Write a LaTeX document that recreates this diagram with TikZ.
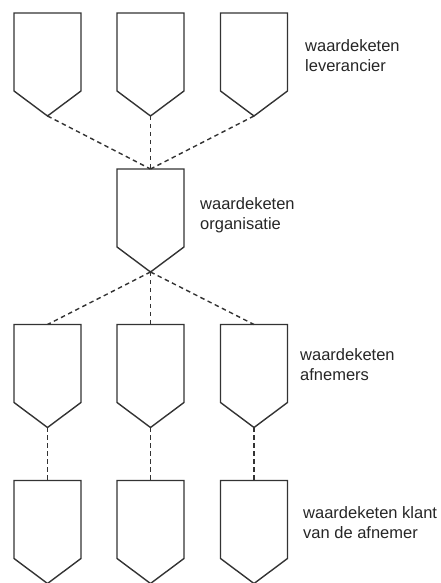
\documentclass[tikz,border=0pt]{standalone}
\usepackage{fontspec}
\setmainfont{Liberation Sans}

\tikzset{
  chainbox/.style={minimum width=67pt, minimum height=103pt, inner sep=0pt, outer sep=0pt},
  chainline/.style={draw=black!80, line width=1.4pt, line join=miter},
  link/.style={draw=black!80, line width=1.4pt, dash pattern=on 4.5pt off 3.5pt},
  chainlabel/.style={anchor=west, align=left, inner sep=0pt, text=black!85,
                     font=\fontsize{16.5}{20}\selectfont}
}

\begin{document}
\begin{tikzpicture}[x=1pt,y=1pt]
   % Page size
   \useasboundingbox (0,0) rectangle (441,583);
   % Leveranciers
   \node[chainbox] (lev1) at (47.5,518.5) {};
   \node[chainbox] (lev2) at (150.5,518.5) {};
   \node[chainbox] (lev3) at (254,518.5) {};
   % Organisatie
   \node[chainbox] (org) at (150.5,362.5) {};
   % Afnemers
   \node[chainbox] (afn1) at (47.5,207) {};
   \node[chainbox] (afn2) at (150.5,207) {};
   \node[chainbox] (afn3) at (254,207) {};
   % Klanten van de afnemers
   \node[chainbox] (kl1) at (47.5,51) {};
   \node[chainbox] (kl2) at (150.5,51) {};
   \node[chainbox] (kl3) at (254,51) {};
   % Pentagon outlines
   \foreach \n in {lev1,lev2,lev3,org,afn1,afn2,afn3,kl1,kl2,kl3}
      \draw[chainline] (\n.north west) -- (\n.north east) -- ([yshift=25pt]\n.south east)
         -- (\n.south) -- ([yshift=25pt]\n.south west) -- cycle;
   % Dashed links
   \draw[link] (lev1.south) -- (org.north);
   \draw[link] (lev2.south) -- (org.north);
   \draw[link] (lev3.south) -- (org.north);
   \draw[link] (org.south) -- (afn1.north);
   \draw[link] (org.south) -- (afn2.north);
   \draw[link] (org.south) -- (afn3.north);
   \draw[link] (afn1.south) -- (kl1.north);
   \draw[link] (afn2.south) -- (kl2.north);
   \draw[link] (afn3.south) -- (kl3.north);
   % Labels
   \node[chainlabel] (levtxt) at (305,527) {waardeketen\\leverancier};
   \node[chainlabel] (orgtxt) at (200,368) {waardeketen\\organisatie};
   \node[chainlabel] (afntxt) at (300,218) {waardeketen\\afnemers};
   \node[chainlabel] (kltxt) at (303,60) {waardeketen klant\\van de afnemer};
\end{tikzpicture}
\end{document}
